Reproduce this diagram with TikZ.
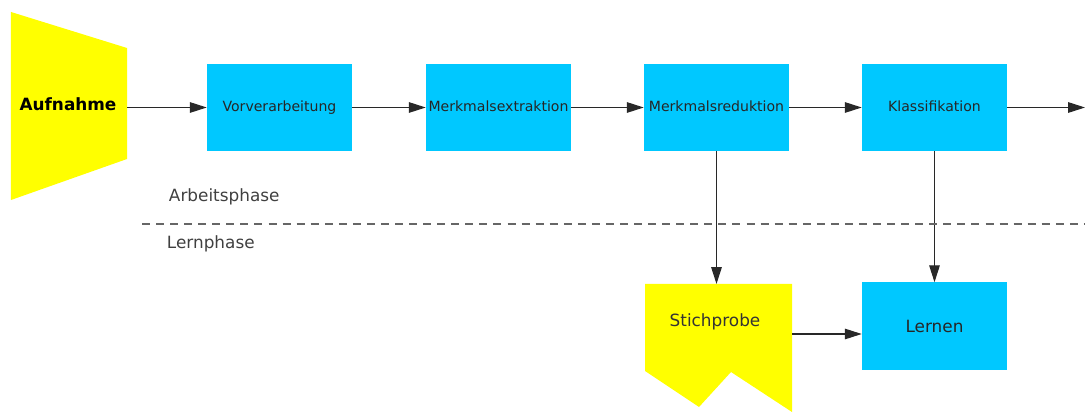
\documentclass[tikz,border=0pt]{standalone}
\usepackage{fontspec}
\setmainfont{DejaVu Sans}
\usetikzlibrary{arrows.meta,positioning}
\definecolor{boxcyan}{RGB}{0,200,255}
\definecolor{inyellow}{RGB}{255,255,0}
\definecolor{flowgray}{RGB}{40,40,40}
\begin{document}
\begin{tikzpicture}[
    stage/.style={fill=boxcyan, inner xsep=0pt, minimum width=3.625cm, minimum height=2.175cm, font=\fontsize{10}{12}\selectfont, text=black!85},
    flow/.style={draw=flowgray, line width=0.8pt, -{Triangle[length=12pt,width=7.5pt]}},
    phase/.style={anchor=west, font=\fontsize{12}{14}\selectfont, text=black!75}
]
    \useasboundingbox (0,0) rectangle (27.125,10.3);

    % input and sample shapes
    \fill[inyellow] (0.275,10) -- (3.175,9.1) -- (3.175,6.325) -- (0.275,5.3) -- cycle;
    \fill[inyellow] (16.125,3.2) -- (19.8,3.2) -- (19.8,0) -- (18.275,1.0) -- (17.475,0.125) -- (16.125,1.025) -- cycle;
    \node[font=\bfseries\fontsize{12}{14}\selectfont] (auf) at (1.7,7.7) {Aufnahme};
    \node[font=\fontsize{12}{14}\selectfont, text=black!80] (sti) at (17.875,2.25) {Stichprobe};
    \coordinate (aufout) at (3.175,7.6125);
    \coordinate (stitop) at (17.9125,3.2);
    \coordinate (stiout) at (19.8,1.95);
    \coordinate (out) at (27.125,7.6125);

    % working chain
    \node[stage] (vor) at (6.9875,7.6125) {\raisebox{2pt}{Vorverarbeitung}};
    \node[stage] (ext) at (12.4625,7.6125) {\raisebox{2pt}{Merkmalsextraktion}};
    \node[stage] (red) at (17.9125,7.6125) {\raisebox{2pt}{Merkmalsreduktion}};
    \node[stage] (kla) at (23.3625,7.6125) {\raisebox{2pt}{Klassifikation}};
    \node[stage, font=\fontsize{12}{14}\selectfont] (ler) at (23.3625,2.15) {Lernen};

    \draw[flow] (aufout) -- (vor);
    \draw[flow] (vor) -- (ext);
    \draw[flow] (ext) -- (red);
    \draw[flow] (red) -- (kla);
    \draw[flow] (kla) -- (out);

    % learning phase
    \draw[flow] (red.south) -- (stitop);
    \draw[flow] (kla.south) -- (ler.north);
    \draw[flow] (stiout) -- (ler.west |- stiout);

    \draw[dashed, dash pattern=on 5.7pt off 4.3pt, line width=1.1pt, black!60] (3.55,4.7) -- (27.125,4.7);
    \node[phase] (arb) at (4.1,5.375) {Arbeitsphase};
    \node[phase] (lern) at (4.05,4.2) {Lernphase};
\end{tikzpicture}
\end{document}
